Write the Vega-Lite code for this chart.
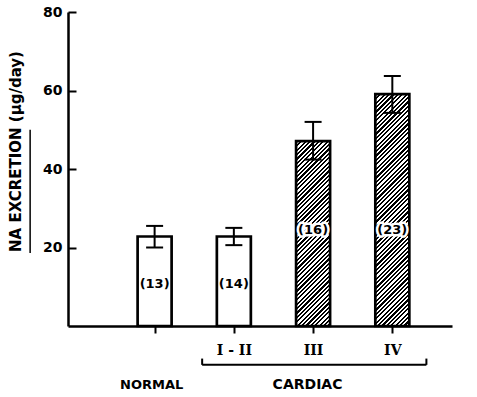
{
 "$schema": "https://vega.github.io/schema/vega-lite/v6.json",
 "width": 384,
 "height": 314,
 "autosize": {"type": "none"},
 "padding": {"left": 68, "top": 12, "right": 25, "bottom": 71},
 "background": "white",
 "config": {"view": {"stroke": null}},
 "data": {"values": [
  {"grp": "NORMAL", "pos": 1, "val": 22.8, "lo": 20.0, "hi": 25.5, "n": "(13)"},
  {"grp": "I-II", "pos": 2, "val": 22.8, "lo": 20.6, "hi": 25.0, "n": "(14)"},
  {"grp": "III", "pos": 3, "val": 47.1, "lo": 42.4, "hi": 52.0, "n": "(16)"},
  {"grp": "IV", "pos": 4, "val": 59.1, "lo": 54.3, "hi": 63.7, "n": "(23)"}
 ]},
 "layer": [
  {
   "transform": [{"filter": "datum.grp=='NORMAL'||datum.grp=='I-II'"}],
   "mark": {"type": "bar", "orient": "vertical", "width": 34, "fill": "white", "stroke": "black", "strokeWidth": 2.7},
   "encoding": {
    "x": {"field": "pos", "type": "quantitative", "scale": {"domain": [-0.03, 4.69], "nice": false, "zero": false},
     "axis": {"values": [1, 2, 3, 4], "labelExpr": "datum.value==2?'I - II':datum.value==3?'III':datum.value==4?'IV':''", "title": null, "grid": false, "domainColor": "black", "domainWidth": 2.5, "tickColor": "black", "tickWidth": 2, "tickSize": 7, "labelFont": "DejaVu Serif", "labelFontWeight": "bold", "labelFontSize": 14, "labelColor": "black", "labelPadding": 10, "labelFlush": false}},
    "y": {"field": "val", "type": "quantitative", "scale": {"domain": [0, 80], "nice": false},
     "axis": {"values": [20, 40, 60, 80], "title": "NA EXCRETION  (μg/day)", "grid": false, "domainColor": "black", "domainWidth": 2.5, "tickColor": "black", "tickWidth": 2, "tickSize": -8, "labelFont": "DejaVu Sans", "labelFontWeight": "bold", "labelFontSize": 14, "labelColor": "black", "labelPadding": 14, "titleFont": "DejaVu Sans", "titleFontWeight": "bold", "titleFontSize": 15, "titleColor": "black", "titlePadding": 19, "titleY": 139}}
   }
  },
  {
   "transform": [{"filter": "datum.grp=='III'"}],
   "mark": {"type": "bar", "orient": "vertical", "width": 34, "stroke": "black", "strokeWidth": 2.7,
    "fill": {"gradient": "linear", "x1": 0, "y1": 0, "x2": 0.2646, "y2": 1.4389, "stops": [
{"offset":0,"color":"#000"},{"offset":0.008,"color":"#000"},{"offset":0.008,"color":"#fff"},{"offset":0.016,"color":"#fff"},
{"offset":0.016,"color":"#000"},{"offset":0.024,"color":"#000"},{"offset":0.024,"color":"#fff"},{"offset":0.032,"color":"#fff"},
{"offset":0.032,"color":"#000"},{"offset":0.04,"color":"#000"},{"offset":0.04,"color":"#fff"},{"offset":0.048,"color":"#fff"},
{"offset":0.048,"color":"#000"},{"offset":0.056,"color":"#000"},{"offset":0.056,"color":"#fff"},{"offset":0.064,"color":"#fff"},
{"offset":0.064,"color":"#000"},{"offset":0.072,"color":"#000"},{"offset":0.072,"color":"#fff"},{"offset":0.08,"color":"#fff"},
{"offset":0.08,"color":"#000"},{"offset":0.088,"color":"#000"},{"offset":0.088,"color":"#fff"},{"offset":0.096,"color":"#fff"},
{"offset":0.096,"color":"#000"},{"offset":0.104,"color":"#000"},{"offset":0.104,"color":"#fff"},{"offset":0.112,"color":"#fff"},
{"offset":0.112,"color":"#000"},{"offset":0.12,"color":"#000"},{"offset":0.12,"color":"#fff"},{"offset":0.128,"color":"#fff"},
{"offset":0.128,"color":"#000"},{"offset":0.136,"color":"#000"},{"offset":0.136,"color":"#fff"},{"offset":0.144,"color":"#fff"},
{"offset":0.144,"color":"#000"},{"offset":0.152,"color":"#000"},{"offset":0.152,"color":"#fff"},{"offset":0.16,"color":"#fff"},
{"offset":0.16,"color":"#000"},{"offset":0.168,"color":"#000"},{"offset":0.168,"color":"#fff"},{"offset":0.176,"color":"#fff"},
{"offset":0.176,"color":"#000"},{"offset":0.184,"color":"#000"},{"offset":0.184,"color":"#fff"},{"offset":0.192,"color":"#fff"},
{"offset":0.192,"color":"#000"},{"offset":0.2,"color":"#000"},{"offset":0.2,"color":"#fff"},{"offset":0.208,"color":"#fff"},
{"offset":0.208,"color":"#000"},{"offset":0.216,"color":"#000"},{"offset":0.216,"color":"#fff"},{"offset":0.224,"color":"#fff"},
{"offset":0.224,"color":"#000"},{"offset":0.232,"color":"#000"},{"offset":0.232,"color":"#fff"},{"offset":0.24,"color":"#fff"},
{"offset":0.24,"color":"#000"},{"offset":0.248,"color":"#000"},{"offset":0.248,"color":"#fff"},{"offset":0.256,"color":"#fff"},
{"offset":0.256,"color":"#000"},{"offset":0.264,"color":"#000"},{"offset":0.264,"color":"#fff"},{"offset":0.272,"color":"#fff"},
{"offset":0.272,"color":"#000"},{"offset":0.28,"color":"#000"},{"offset":0.28,"color":"#fff"},{"offset":0.288,"color":"#fff"},
{"offset":0.288,"color":"#000"},{"offset":0.296,"color":"#000"},{"offset":0.296,"color":"#fff"},{"offset":0.304,"color":"#fff"},
{"offset":0.304,"color":"#000"},{"offset":0.312,"color":"#000"},{"offset":0.312,"color":"#fff"},{"offset":0.32,"color":"#fff"},
{"offset":0.32,"color":"#000"},{"offset":0.328,"color":"#000"},{"offset":0.328,"color":"#fff"},{"offset":0.336,"color":"#fff"},
{"offset":0.336,"color":"#000"},{"offset":0.344,"color":"#000"},{"offset":0.344,"color":"#fff"},{"offset":0.352,"color":"#fff"},
{"offset":0.352,"color":"#000"},{"offset":0.36,"color":"#000"},{"offset":0.36,"color":"#fff"},{"offset":0.368,"color":"#fff"},
{"offset":0.368,"color":"#000"},{"offset":0.376,"color":"#000"},{"offset":0.376,"color":"#fff"},{"offset":0.384,"color":"#fff"},
{"offset":0.384,"color":"#000"},{"offset":0.392,"color":"#000"},{"offset":0.392,"color":"#fff"},{"offset":0.4,"color":"#fff"},
{"offset":0.4,"color":"#000"},{"offset":0.408,"color":"#000"},{"offset":0.408,"color":"#fff"},{"offset":0.416,"color":"#fff"},
{"offset":0.416,"color":"#000"},{"offset":0.424,"color":"#000"},{"offset":0.424,"color":"#fff"},{"offset":0.432,"color":"#fff"},
{"offset":0.432,"color":"#000"},{"offset":0.44,"color":"#000"},{"offset":0.44,"color":"#fff"},{"offset":0.448,"color":"#fff"},
{"offset":0.448,"color":"#000"},{"offset":0.456,"color":"#000"},{"offset":0.456,"color":"#fff"},{"offset":0.464,"color":"#fff"},
{"offset":0.464,"color":"#000"},{"offset":0.472,"color":"#000"},{"offset":0.472,"color":"#fff"},{"offset":0.48,"color":"#fff"},
{"offset":0.48,"color":"#000"},{"offset":0.488,"color":"#000"},{"offset":0.488,"color":"#fff"},{"offset":0.496,"color":"#fff"},
{"offset":0.496,"color":"#000"},{"offset":0.504,"color":"#000"},{"offset":0.504,"color":"#fff"},{"offset":0.512,"color":"#fff"},
{"offset":0.512,"color":"#000"},{"offset":0.52,"color":"#000"},{"offset":0.52,"color":"#fff"},{"offset":0.528,"color":"#fff"},
{"offset":0.528,"color":"#000"},{"offset":0.536,"color":"#000"},{"offset":0.536,"color":"#fff"},{"offset":0.544,"color":"#fff"},
{"offset":0.544,"color":"#000"},{"offset":0.552,"color":"#000"},{"offset":0.552,"color":"#fff"},{"offset":0.56,"color":"#fff"},
{"offset":0.56,"color":"#000"},{"offset":0.568,"color":"#000"},{"offset":0.568,"color":"#fff"},{"offset":0.576,"color":"#fff"},
{"offset":0.576,"color":"#000"},{"offset":0.584,"color":"#000"},{"offset":0.584,"color":"#fff"},{"offset":0.592,"color":"#fff"},
{"offset":0.592,"color":"#000"},{"offset":0.6,"color":"#000"},{"offset":0.6,"color":"#fff"},{"offset":0.608,"color":"#fff"},
{"offset":0.608,"color":"#000"},{"offset":0.616,"color":"#000"},{"offset":0.616,"color":"#fff"},{"offset":0.624,"color":"#fff"},
{"offset":0.624,"color":"#000"},{"offset":0.632,"color":"#000"},{"offset":0.632,"color":"#fff"},{"offset":0.64,"color":"#fff"},
{"offset":0.64,"color":"#000"},{"offset":0.648,"color":"#000"},{"offset":0.648,"color":"#fff"},{"offset":0.656,"color":"#fff"},
{"offset":0.656,"color":"#000"},{"offset":0.664,"color":"#000"},{"offset":0.664,"color":"#fff"},{"offset":0.672,"color":"#fff"},
{"offset":0.672,"color":"#000"},{"offset":0.68,"color":"#000"},{"offset":0.68,"color":"#fff"},{"offset":0.688,"color":"#fff"},
{"offset":0.688,"color":"#000"},{"offset":0.696,"color":"#000"},{"offset":0.696,"color":"#fff"},{"offset":0.704,"color":"#fff"},
{"offset":0.704,"color":"#000"},{"offset":0.712,"color":"#000"},{"offset":0.712,"color":"#fff"},{"offset":0.72,"color":"#fff"},
{"offset":0.72,"color":"#000"},{"offset":0.728,"color":"#000"},{"offset":0.728,"color":"#fff"},{"offset":0.736,"color":"#fff"},
{"offset":0.736,"color":"#000"},{"offset":0.744,"color":"#000"},{"offset":0.744,"color":"#fff"},{"offset":0.752,"color":"#fff"},
{"offset":0.752,"color":"#000"},{"offset":0.76,"color":"#000"},{"offset":0.76,"color":"#fff"},{"offset":0.768,"color":"#fff"},
{"offset":0.768,"color":"#000"},{"offset":0.776,"color":"#000"},{"offset":0.776,"color":"#fff"},{"offset":0.784,"color":"#fff"},
{"offset":0.784,"color":"#000"},{"offset":0.792,"color":"#000"},{"offset":0.792,"color":"#fff"},{"offset":0.8,"color":"#fff"},
{"offset":0.8,"color":"#000"},{"offset":0.808,"color":"#000"},{"offset":0.808,"color":"#fff"},{"offset":0.816,"color":"#fff"},
{"offset":0.816,"color":"#000"},{"offset":0.824,"color":"#000"},{"offset":0.824,"color":"#fff"},{"offset":0.832,"color":"#fff"}
    ]}},
   "encoding": {
    "x": {"field": "pos", "type": "quantitative"},
    "y": {"field": "val", "type": "quantitative"}
   }
  },
  {
   "transform": [{"filter": "datum.grp=='IV'"}],
   "mark": {"type": "bar", "orient": "vertical", "width": 34, "stroke": "black", "strokeWidth": 2.7,
    "fill": {"gradient": "linear", "x1": 0, "y1": 0, "x2": 0.1701, "y2": 1.1606, "stops": [
{"offset":0,"color":"#000"},{"offset":0.008,"color":"#000"},{"offset":0.008,"color":"#fff"},{"offset":0.016,"color":"#fff"},
{"offset":0.016,"color":"#000"},{"offset":0.024,"color":"#000"},{"offset":0.024,"color":"#fff"},{"offset":0.032,"color":"#fff"},
{"offset":0.032,"color":"#000"},{"offset":0.04,"color":"#000"},{"offset":0.04,"color":"#fff"},{"offset":0.048,"color":"#fff"},
{"offset":0.048,"color":"#000"},{"offset":0.056,"color":"#000"},{"offset":0.056,"color":"#fff"},{"offset":0.064,"color":"#fff"},
{"offset":0.064,"color":"#000"},{"offset":0.072,"color":"#000"},{"offset":0.072,"color":"#fff"},{"offset":0.08,"color":"#fff"},
{"offset":0.08,"color":"#000"},{"offset":0.088,"color":"#000"},{"offset":0.088,"color":"#fff"},{"offset":0.096,"color":"#fff"},
{"offset":0.096,"color":"#000"},{"offset":0.104,"color":"#000"},{"offset":0.104,"color":"#fff"},{"offset":0.112,"color":"#fff"},
{"offset":0.112,"color":"#000"},{"offset":0.12,"color":"#000"},{"offset":0.12,"color":"#fff"},{"offset":0.128,"color":"#fff"},
{"offset":0.128,"color":"#000"},{"offset":0.136,"color":"#000"},{"offset":0.136,"color":"#fff"},{"offset":0.144,"color":"#fff"},
{"offset":0.144,"color":"#000"},{"offset":0.152,"color":"#000"},{"offset":0.152,"color":"#fff"},{"offset":0.16,"color":"#fff"},
{"offset":0.16,"color":"#000"},{"offset":0.168,"color":"#000"},{"offset":0.168,"color":"#fff"},{"offset":0.176,"color":"#fff"},
{"offset":0.176,"color":"#000"},{"offset":0.184,"color":"#000"},{"offset":0.184,"color":"#fff"},{"offset":0.192,"color":"#fff"},
{"offset":0.192,"color":"#000"},{"offset":0.2,"color":"#000"},{"offset":0.2,"color":"#fff"},{"offset":0.208,"color":"#fff"},
{"offset":0.208,"color":"#000"},{"offset":0.216,"color":"#000"},{"offset":0.216,"color":"#fff"},{"offset":0.224,"color":"#fff"},
{"offset":0.224,"color":"#000"},{"offset":0.232,"color":"#000"},{"offset":0.232,"color":"#fff"},{"offset":0.24,"color":"#fff"},
{"offset":0.24,"color":"#000"},{"offset":0.248,"color":"#000"},{"offset":0.248,"color":"#fff"},{"offset":0.256,"color":"#fff"},
{"offset":0.256,"color":"#000"},{"offset":0.264,"color":"#000"},{"offset":0.264,"color":"#fff"},{"offset":0.272,"color":"#fff"},
{"offset":0.272,"color":"#000"},{"offset":0.28,"color":"#000"},{"offset":0.28,"color":"#fff"},{"offset":0.288,"color":"#fff"},
{"offset":0.288,"color":"#000"},{"offset":0.296,"color":"#000"},{"offset":0.296,"color":"#fff"},{"offset":0.304,"color":"#fff"},
{"offset":0.304,"color":"#000"},{"offset":0.312,"color":"#000"},{"offset":0.312,"color":"#fff"},{"offset":0.32,"color":"#fff"},
{"offset":0.32,"color":"#000"},{"offset":0.328,"color":"#000"},{"offset":0.328,"color":"#fff"},{"offset":0.336,"color":"#fff"},
{"offset":0.336,"color":"#000"},{"offset":0.344,"color":"#000"},{"offset":0.344,"color":"#fff"},{"offset":0.352,"color":"#fff"},
{"offset":0.352,"color":"#000"},{"offset":0.36,"color":"#000"},{"offset":0.36,"color":"#fff"},{"offset":0.368,"color":"#fff"},
{"offset":0.368,"color":"#000"},{"offset":0.376,"color":"#000"},{"offset":0.376,"color":"#fff"},{"offset":0.384,"color":"#fff"},
{"offset":0.384,"color":"#000"},{"offset":0.392,"color":"#000"},{"offset":0.392,"color":"#fff"},{"offset":0.4,"color":"#fff"},
{"offset":0.4,"color":"#000"},{"offset":0.408,"color":"#000"},{"offset":0.408,"color":"#fff"},{"offset":0.416,"color":"#fff"},
{"offset":0.416,"color":"#000"},{"offset":0.424,"color":"#000"},{"offset":0.424,"color":"#fff"},{"offset":0.432,"color":"#fff"},
{"offset":0.432,"color":"#000"},{"offset":0.44,"color":"#000"},{"offset":0.44,"color":"#fff"},{"offset":0.448,"color":"#fff"},
{"offset":0.448,"color":"#000"},{"offset":0.456,"color":"#000"},{"offset":0.456,"color":"#fff"},{"offset":0.464,"color":"#fff"},
{"offset":0.464,"color":"#000"},{"offset":0.472,"color":"#000"},{"offset":0.472,"color":"#fff"},{"offset":0.48,"color":"#fff"},
{"offset":0.48,"color":"#000"},{"offset":0.488,"color":"#000"},{"offset":0.488,"color":"#fff"},{"offset":0.496,"color":"#fff"},
{"offset":0.496,"color":"#000"},{"offset":0.504,"color":"#000"},{"offset":0.504,"color":"#fff"},{"offset":0.512,"color":"#fff"},
{"offset":0.512,"color":"#000"},{"offset":0.52,"color":"#000"},{"offset":0.52,"color":"#fff"},{"offset":0.528,"color":"#fff"},
{"offset":0.528,"color":"#000"},{"offset":0.536,"color":"#000"},{"offset":0.536,"color":"#fff"},{"offset":0.544,"color":"#fff"},
{"offset":0.544,"color":"#000"},{"offset":0.552,"color":"#000"},{"offset":0.552,"color":"#fff"},{"offset":0.56,"color":"#fff"},
{"offset":0.56,"color":"#000"},{"offset":0.568,"color":"#000"},{"offset":0.568,"color":"#fff"},{"offset":0.576,"color":"#fff"},
{"offset":0.576,"color":"#000"},{"offset":0.584,"color":"#000"},{"offset":0.584,"color":"#fff"},{"offset":0.592,"color":"#fff"},
{"offset":0.592,"color":"#000"},{"offset":0.6,"color":"#000"},{"offset":0.6,"color":"#fff"},{"offset":0.608,"color":"#fff"},
{"offset":0.608,"color":"#000"},{"offset":0.616,"color":"#000"},{"offset":0.616,"color":"#fff"},{"offset":0.624,"color":"#fff"},
{"offset":0.624,"color":"#000"},{"offset":0.632,"color":"#000"},{"offset":0.632,"color":"#fff"},{"offset":0.64,"color":"#fff"},
{"offset":0.64,"color":"#000"},{"offset":0.648,"color":"#000"},{"offset":0.648,"color":"#fff"},{"offset":0.656,"color":"#fff"},
{"offset":0.656,"color":"#000"},{"offset":0.664,"color":"#000"},{"offset":0.664,"color":"#fff"},{"offset":0.672,"color":"#fff"},
{"offset":0.672,"color":"#000"},{"offset":0.68,"color":"#000"},{"offset":0.68,"color":"#fff"},{"offset":0.688,"color":"#fff"},
{"offset":0.688,"color":"#000"},{"offset":0.696,"color":"#000"},{"offset":0.696,"color":"#fff"},{"offset":0.704,"color":"#fff"},
{"offset":0.704,"color":"#000"},{"offset":0.712,"color":"#000"},{"offset":0.712,"color":"#fff"},{"offset":0.72,"color":"#fff"},
{"offset":0.72,"color":"#000"},{"offset":0.728,"color":"#000"},{"offset":0.728,"color":"#fff"},{"offset":0.736,"color":"#fff"},
{"offset":0.736,"color":"#000"},{"offset":0.744,"color":"#000"},{"offset":0.744,"color":"#fff"},{"offset":0.752,"color":"#fff"},
{"offset":0.752,"color":"#000"},{"offset":0.76,"color":"#000"},{"offset":0.76,"color":"#fff"},{"offset":0.768,"color":"#fff"},
{"offset":0.768,"color":"#000"},{"offset":0.776,"color":"#000"},{"offset":0.776,"color":"#fff"},{"offset":0.784,"color":"#fff"},
{"offset":0.784,"color":"#000"},{"offset":0.792,"color":"#000"},{"offset":0.792,"color":"#fff"},{"offset":0.8,"color":"#fff"},
{"offset":0.8,"color":"#000"},{"offset":0.808,"color":"#000"},{"offset":0.808,"color":"#fff"},{"offset":0.816,"color":"#fff"},
{"offset":0.816,"color":"#000"},{"offset":0.824,"color":"#000"},{"offset":0.824,"color":"#fff"},{"offset":0.832,"color":"#fff"},
{"offset":0.832,"color":"#000"},{"offset":0.84,"color":"#000"},{"offset":0.84,"color":"#fff"},{"offset":0.848,"color":"#fff"},
{"offset":0.848,"color":"#000"},{"offset":0.856,"color":"#000"},{"offset":0.856,"color":"#fff"},{"offset":0.864,"color":"#fff"},
{"offset":0.864,"color":"#000"},{"offset":0.872,"color":"#000"},{"offset":0.872,"color":"#fff"},{"offset":0.88,"color":"#fff"},
{"offset":0.88,"color":"#000"},{"offset":0.888,"color":"#000"},{"offset":0.888,"color":"#fff"},{"offset":0.896,"color":"#fff"},
{"offset":0.896,"color":"#000"},{"offset":0.904,"color":"#000"},{"offset":0.904,"color":"#fff"},{"offset":0.912,"color":"#fff"},
{"offset":0.912,"color":"#000"},{"offset":0.92,"color":"#000"},{"offset":0.92,"color":"#fff"},{"offset":0.928,"color":"#fff"},
{"offset":0.928,"color":"#000"},{"offset":0.936,"color":"#000"},{"offset":0.936,"color":"#fff"},{"offset":0.944,"color":"#fff"},
{"offset":0.944,"color":"#000"},{"offset":0.952,"color":"#000"},{"offset":0.952,"color":"#fff"},{"offset":0.96,"color":"#fff"},
{"offset":0.96,"color":"#000"},{"offset":0.968,"color":"#000"},{"offset":0.968,"color":"#fff"},{"offset":0.976,"color":"#fff"},
{"offset":0.976,"color":"#000"},{"offset":0.984,"color":"#000"},{"offset":0.984,"color":"#fff"},{"offset":0.992,"color":"#fff"},
{"offset":0.992,"color":"#000"},{"offset":1,"color":"#000"}
    ]}},
   "encoding": {
    "x": {"field": "pos", "type": "quantitative"},
    "y": {"field": "val", "type": "quantitative"}
   }
  },
  {
   "mark": {"type": "rule", "stroke": "black", "strokeWidth": 2},
   "encoding": {
    "x": {"field": "pos", "type": "quantitative"},
    "y": {"field": "lo", "type": "quantitative"},
    "y2": {"field": "hi"}
   }
  },
  {
   "mark": {"type": "tick", "orient": "horizontal", "size": 17, "thickness": 2, "color": "black", "opacity": 1},
   "encoding": {
    "x": {"field": "pos", "type": "quantitative"},
    "y": {"field": "lo", "type": "quantitative"}
   }
  },
  {
   "mark": {"type": "tick", "orient": "horizontal", "size": 17, "thickness": 2, "color": "black", "opacity": 1},
   "encoding": {
    "x": {"field": "pos", "type": "quantitative"},
    "y": {"field": "hi", "type": "quantitative"}
   }
  },
  {
   "transform": [{"filter": "datum.grp=='NORMAL'||datum.grp=='I-II'"}],
   "mark": {"type": "text", "font": "DejaVu Sans", "fontWeight": "bold", "fontSize": 13, "color": "black"},
   "encoding": {
    "x": {"field": "pos", "type": "quantitative"},
    "y": {"datum": 10.7, "type": "quantitative"},
    "text": {"field": "n"}
   }
  },
  {
   "transform": [{"filter": "datum.grp=='III'||datum.grp=='IV'"}],
   "mark": {"type": "text", "font": "DejaVu Sans", "fontWeight": "bold", "fontSize": 13, "fill": "white", "stroke": "white", "strokeWidth": 5, "strokeJoin": "round"},
   "encoding": {
    "x": {"field": "pos", "type": "quantitative"},
    "y": {"datum": 24.5, "type": "quantitative"},
    "text": {"field": "n"}
   }
  },
  {
   "transform": [{"filter": "datum.grp=='III'||datum.grp=='IV'"}],
   "mark": {"type": "text", "font": "DejaVu Sans", "fontWeight": "bold", "fontSize": 13, "color": "black"},
   "encoding": {
    "x": {"field": "pos", "type": "quantitative"},
    "y": {"datum": 24.5, "type": "quantitative"},
    "text": {"field": "n"}
   }
  },
  {
   "data": {"values": [{"label": "NORMAL"}]},
   "mark": {"type": "text", "font": "DejaVu Sans", "fontWeight": "bold", "fontSize": 13, "color": "black"},
   "encoding": {
    "x": {"datum": 0.963, "type": "quantitative"},
    "y": {"datum": -15, "type": "quantitative"},
    "text": {"field": "label"}
   }
  },
  {
   "data": {"values": [{"label": "CARDIAC"}]},
   "mark": {"type": "text", "font": "DejaVu Sans", "fontWeight": "bold", "fontSize": 14, "color": "black"},
   "encoding": {
    "x": {"datum": 2.93, "type": "quantitative"},
    "y": {"datum": -15, "type": "quantitative"},
    "text": {"field": "label"}
   }
  },
  {
   "data": {"values": [{}]},
   "mark": {"type": "rule", "stroke": "black", "strokeWidth": 2},
   "encoding": {
    "x": {"datum": 1.6, "type": "quantitative"},
    "x2": {"datum": 4.43},
    "y": {"datum": -9.9, "type": "quantitative"}
   }
  },
  {
   "data": {"values": [{}]},
   "mark": {"type": "rule", "stroke": "black", "strokeWidth": 2},
   "encoding": {
    "x": {"datum": 1.6, "type": "quantitative"},
    "y": {"datum": -8.3, "type": "quantitative"},
    "y2": {"datum": -9.9}
   }
  },
  {
   "data": {"values": [{}]},
   "mark": {"type": "rule", "stroke": "black", "strokeWidth": 2},
   "encoding": {
    "x": {"datum": 4.43, "type": "quantitative"},
    "y": {"datum": -8.3, "type": "quantitative"},
    "y2": {"datum": -9.9}
   }
  },
  {
   "data": {"values": [{}]},
   "mark": {"type": "rule", "stroke": "black", "strokeWidth": 1.5},
   "encoding": {
    "x": {"datum": -0.571, "type": "quantitative"},
    "y": {"datum": 18.6, "type": "quantitative"},
    "y2": {"datum": 50.0}
   }
  }
 ]
}
